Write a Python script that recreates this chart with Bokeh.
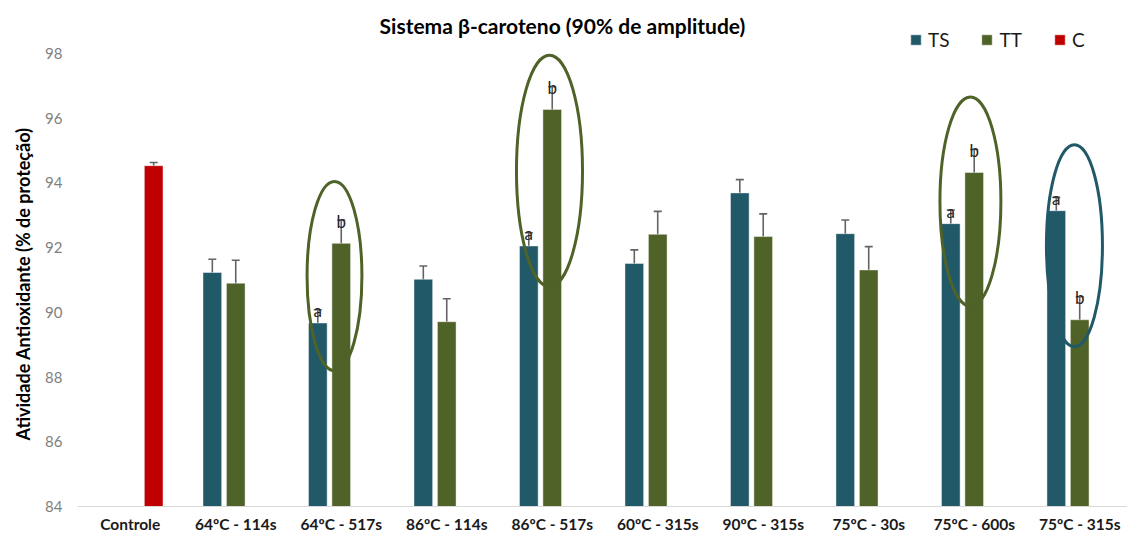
import numpy as np
from bokeh.plotting import figure
from bokeh.models import (ColumnDataSource, FixedTicker, Whisker, TeeHead, Legend,
                          LegendItem, Label, Range1d, Title)
from bokeh.core.properties import value
from bokeh.embed import file_html
from bokeh.resources import INLINE

# ---------------- data ----------------
categories = ["Controle", "64ºC - 114s", "64ºC - 517s", "86ºC - 114s", "86ºC - 517s",
              "60ºC - 315s", "90ºC - 315s", "75ºC - 30s", "75ºC - 600s", "75ºC - 315s"]
control_value = [94.53]
control_error = [0.10]
ts_values = [91.23, 89.67, 91.02, 92.05, 91.51, 93.69, 92.43, 92.74, 93.14]
ts_errors = [0.41, 0.41, 0.41, 0.41, 0.42, 0.41, 0.42, 0.42, 0.41]
tt_values = [90.90, 92.13, 89.71, 96.27, 92.41, 92.34, 91.31, 94.32, 89.77]
tt_errors = [0.71, 0.72, 0.71, 0.70, 0.71, 0.70, 0.72, 0.71, 0.71]
ts_letters = ["", "a", "", "a", "", "", "", "a", "a"]
tt_letters = ["", "b", "", "b", "", "", "", "b", "b"]
y_ticks = [84, 86, 88, 90, 92, 94, 96, 98]
series_names = ["TS", "TT", "C"]
title_text = "Sistema β-caroteno (90% de amplitude)"
y_title = "Atividade Antioxidante (% de proteção)"
highlight_categories = ["64ºC - 517s", "86ºC - 517s", "75ºC - 600s", "75ºC - 315s"]
highlight_series = ["TT", "TT", "TT", "TS"]

# ---------------- style ----------------
COLORS = {"TS": "#215968", "TT": "#4F6228", "C": "#C00000"}
ERR_COLOR = "#646464"
FONT = "Lato"
SLOT = 0.222
BAR_W = 0.177
OFFSETS = {"TS": -SLOT, "TT": 0.0, "C": SLOT}
Y_MIN = y_ticks[0]

p = figure(width=1127, height=535, title=None,
           x_range=Range1d(-0.5, 9.453), y_range=Range1d(Y_MIN, 99.634),
           output_backend="svg", toolbar_location=None,
           min_border_left=77, min_border_right=0, min_border_top=0, min_border_bottom=28)
p.outline_line_color = None
p.xgrid.visible = False
p.ygrid.visible = False
p.background_fill_color = "white"

# x axis
p.xaxis.ticker = FixedTicker(ticks=list(range(len(categories))))
p.xaxis.major_label_overrides = {i: c for i, c in enumerate(categories)}
p.xaxis.major_label_text_font = FONT
p.xaxis.major_label_text_font_style = "bold"
p.xaxis.major_label_text_font_size = "15.5px"
p.xaxis.major_label_text_color = "#1a1a1a"
p.xaxis.major_tick_line_color = None
p.xaxis.minor_tick_line_color = None
p.xaxis.major_tick_out = 0
p.xaxis.major_tick_in = 0
p.xaxis.axis_line_color = "#d9d9d9"
p.xaxis.axis_line_width = 1
p.xaxis.major_label_standoff = 8

# y axis
p.yaxis.ticker = FixedTicker(ticks=y_ticks)
p.yaxis.axis_line_color = None
p.yaxis.major_tick_line_color = None
p.yaxis.minor_tick_line_color = None
p.yaxis.major_tick_out = 0
p.yaxis.major_tick_in = 0
p.yaxis.major_label_standoff = 15
p.yaxis.major_label_text_font = FONT
p.yaxis.major_label_text_font_size = "15px"
p.yaxis.major_label_text_color = "#7f7f7f"

# y axis title as a side title
p.add_layout(Title(text=y_title, align="left", offset=66, standoff=17,
                   text_font=FONT, text_font_style="bold", text_font_size="18px",
                   text_color="#000000"), "left")

# ---------------- bars ----------------
idx = np.arange(1, len(categories))
ts_x = idx + OFFSETS["TS"]
tt_x = idx + OFFSETS["TT"]
c_x = np.array([0]) + OFFSETS["C"]

def make_source(x, vals, errs, letters=None):
    vals = np.array(vals)
    errs = np.array(errs)
    d = dict(x=x, top=vals, upper=vals + errs, lower=vals - errs)
    if letters is not None:
        d["letter"] = letters
    return ColumnDataSource(d)

ts_src = make_source(ts_x, ts_values, ts_errors, ts_letters)
tt_src = make_source(tt_x, tt_values, tt_errors, tt_letters)
c_src = make_source(c_x, control_value, control_error)

renderers = {}
for name, src in (("TS", ts_src), ("TT", tt_src), ("C", c_src)):
    renderers[name] = p.vbar(x="x", top="top", bottom=Y_MIN, width=BAR_W, source=src,
                             fill_color=COLORS[name], line_color="#ffffff",
                             line_alpha=0.45, line_width=1)

for src in (ts_src, tt_src, c_src):
    w = Whisker(base="x", upper="upper", lower="lower", source=src,
                line_color=ERR_COLOR, line_width=1.6,
                upper_head=TeeHead(size=8, line_color=ERR_COLOR, line_width=1.6),
                lower_head=TeeHead(size=8, line_color=ERR_COLOR, line_width=1.6))
    p.add_layout(w)

for src in (ts_src, tt_src):
    p.text(x="x", y="upper", text="letter", source=src, text_align="center",
           text_baseline="alphabetic", text_font=value(FONT), text_font_size="17px",
           text_color="#262626", y_offset=1)

# ---------------- highlight ellipses (annotations) ----------------
# geometry per highlight: (dx from category centre, centre y, width, height)
ell_geom = [(-0.064, 91.12, 0.52, 5.85),
            (-0.026, 94.37, 0.626, 7.15),
            (-0.036, 93.42, 0.578, 6.47),
            (-0.050, 92.06, 0.531, 6.24)]
for cat, ser, (dx, cy, ew, eh) in zip(highlight_categories, highlight_series, ell_geom):
    cx = categories.index(cat) + dx
    p.ellipse(x=[cx], y=[cy], width=[ew], height=[eh], fill_color=None,
              line_color=COLORS[ser], line_width=3)

# ---------------- legend ----------------
legend = Legend(items=[LegendItem(label=n, renderers=[renderers[n]]) for n in series_names],
                orientation="horizontal", location=(832, 455),
                glyph_width=13, glyph_height=13, label_standoff=6, spacing=31,
                label_text_font=FONT, label_text_font_size="19px",
                label_text_color="#1a1a1a", padding=0, margin=0,
                border_line_color=None, background_fill_alpha=0, label_width=0)
p.add_layout(legend)

# ---------------- title ----------------
p.add_layout(Label(x=4.097, y=98.863, text=title_text, text_align="center",
                   text_baseline="middle", text_font=FONT, text_font_style="bold",
                   text_font_size="21px", text_color="#000000"))

open("out.html", "w").write(file_html(p, INLINE))
